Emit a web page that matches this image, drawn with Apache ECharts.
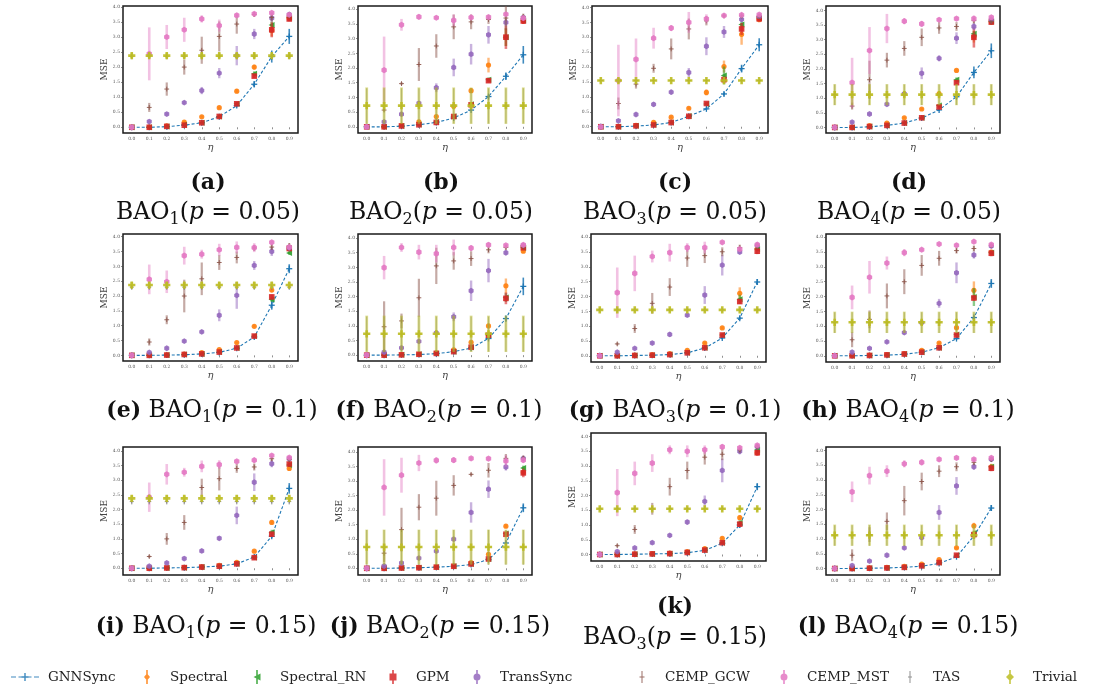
<!DOCTYPE html>
<html>
<head>
<meta charset="utf-8">
<script src="https://cdn.jsdelivr.net/npm/echarts@6/dist/echarts.min.js"></script>
<style>
  html, body { margin: 0; padding: 0; background: #fff; }
  #chart { width: 1118px; height: 691px; }
</style>
</head>
<body>
<div id="chart"></div>
<script>
// ---------- data ----------
const etaTicks = ['0.0', '0.1', '0.2', '0.3', '0.4', '0.5', '0.6', '0.7', '0.8', '0.9'];
const methods = ['GNNSync', 'Spectral', 'Spectral_RN', 'GPM', 'TransSync', 'CEMP_GCW', 'CEMP_MST', 'TAS', 'Trivial'];

const panelTags = ['(a)', '(b)', '(c)', '(d)', '(e)', '(f)', '(g)', '(h)', '(i)', '(j)', '(k)', '(l)'];
const panelBao = ['1', '2', '3', '4', '1', '2', '3', '4', '1', '2', '3', '4'];
const panelP = ['0.05', '0.05', '0.05', '0.05', '0.1', '0.1', '0.1', '0.1', '0.15', '0.15', '0.15', '0.15'];
const yMinTicks = [-0.19, -0.21, -0.21, -0.19, -0.19, -0.2, -0.21, -0.21, -0.23, -0.23, -0.22, -0.22];
const yMaxTicks = [4.03, 4.11, 4.05, 4.15, 4.09, 4.14, 4.11, 4.11, 4.13, 4.17, 4.12, 4.12];

// rows: GNNSync, Spectral, Spectral_RN, GPM, TransSync, CEMP_GCW, CEMP_MST, TAS, Trivial
const mseA = [
  [0, 0, 0.02, 0.07, 0.15, 0.35, 0.72, 1.43, 2.35, 3.02],
  [0, 0.01, 0.05, 0.17, 0.35, 0.65, 1.2, 2.0, 3.22, 3.62],
  [0, 0, 0.03, 0.08, 0.15, 0.36, 0.78, 1.78, 3.4, 3.65],
  [0, 0, 0.03, 0.07, 0.15, 0.36, 0.78, 1.7, 3.24, 3.6],
  [0, 0.19, 0.44, 0.82, 1.22, 1.8, 2.38, 3.1, 3.63, 3.75],
  [0, 0.66, 1.27, 2.0, 2.56, 3.02, 3.43, 3.75, 3.65, 3.72],
  [0, 2.44, 3.0, 3.24, 3.6, 3.38, 3.72, 3.77, 3.8, 3.74],
  [2.36, 2.36, 2.36, 2.36, 2.36, 2.36, 2.36, 2.36, 2.36, 2.36],
  [2.38, 2.38, 2.38, 2.38, 2.38, 2.38, 2.38, 2.38, 2.38, 2.38]
];
const errA = [
  [0.005, 0.005, 0.01, 0.02, 0.02, 0.03, 0.05, 0.1, 0.2, 0.25],
  [0.005, 0.01, 0.02, 0.04, 0.03, 0.04, 0.07, 0.08, 0.2, 0.05],
  [0.005, 0.005, 0.01, 0.02, 0.02, 0.03, 0.05, 0.08, 0.1, 0.05],
  [0.005, 0.005, 0.01, 0.02, 0.02, 0.03, 0.04, 0.06, 0.25, 0.08],
  [0.005, 0.03, 0.05, 0.05, 0.12, 0.17, 0.32, 0.17, 0.12, 0.06],
  [0.005, 0.15, 0.22, 0.25, 0.45, 0.5, 0.32, 0.08, 0.15, 0.1],
  [0.005, 0.88, 0.4, 0.4, 0.12, 0.2, 0.08, 0.05, 0.04, 0.05],
  [0.1, 0.1, 0.1, 0.1, 0.1, 0.1, 0.1, 0.1, 0.1, 0.1],
  [0.08, 0.08, 0.08, 0.08, 0.08, 0.08, 0.08, 0.08, 0.08, 0.08]
];

const mseB = [
  [0, 0, 0.02, 0.07, 0.15, 0.3, 0.57, 1.03, 1.72, 2.45],
  [0, 0.01, 0.05, 0.17, 0.35, 0.7, 1.23, 2.1, 3.05, 3.6],
  [0, 0, 0.03, 0.08, 0.16, 0.36, 0.77, 1.6, 3.05, 3.62],
  [0, 0, 0.03, 0.07, 0.15, 0.35, 0.75, 1.57, 3.05, 3.6],
  [0, 0.17, 0.43, 0.8, 1.33, 2.02, 2.47, 3.13, 3.55, 3.72],
  [0, 0.57, 1.47, 2.12, 2.75, 3.4, 3.57, 3.65, 3.7, 3.75],
  [0, 1.93, 3.47, 3.74, 3.71, 3.62, 3.72, 3.73, 3.83, 3.7],
  [0.71, 0.71, 0.71, 0.71, 0.71, 0.71, 0.71, 0.71, 0.71, 0.71],
  [0.72, 0.72, 0.72, 0.72, 0.72, 0.72, 0.72, 0.72, 0.72, 0.72]
];
const errB = [
  [0.005, 0.005, 0.01, 0.02, 0.02, 0.03, 0.04, 0.06, 0.13, 0.3],
  [0.005, 0.01, 0.02, 0.04, 0.03, 0.05, 0.08, 0.25, 0.3, 0.1],
  [0.005, 0.005, 0.01, 0.02, 0.02, 0.03, 0.05, 0.08, 0.3, 0.08],
  [0.005, 0.005, 0.01, 0.02, 0.02, 0.03, 0.04, 0.06, 0.4, 0.1],
  [0.005, 0.03, 0.05, 0.08, 0.15, 0.3, 0.35, 0.3, 0.12, 0.08],
  [0.005, 0.05, 0.05, 0.56, 0.4, 0.42, 0.25, 0.15, 0.4, 0.1],
  [0.005, 1.14, 0.2, 0.08, 0.05, 0.2, 0.08, 0.05, 0.04, 0.06],
  [0.6, 0.6, 0.6, 0.6, 0.6, 0.6, 0.6, 0.6, 0.6, 0.6],
  [0.62, 0.62, 0.62, 0.62, 0.62, 0.62, 0.62, 0.62, 0.62, 0.62]
];

const mseC = [
  [0, 0, 0.02, 0.06, 0.14, 0.35, 0.6, 1.1, 1.95, 2.75],
  [0, 0.01, 0.05, 0.15, 0.32, 0.62, 1.15, 2.02, 3.1, 3.6],
  [0, 0, 0.03, 0.07, 0.14, 0.36, 0.76, 1.72, 3.43, 3.65],
  [0, 0, 0.03, 0.06, 0.14, 0.35, 0.78, 1.58, 3.28, 3.62],
  [0, 0.2, 0.41, 0.75, 1.16, 1.82, 2.7, 3.18, 3.6, 3.7],
  [0, 0.78, 1.43, 1.96, 2.61, 3.28, 3.55, 3.72, 3.72, 3.7],
  [0, 1.55, 2.26, 2.97, 3.31, 3.5, 3.62, 3.73, 3.75, 3.76],
  [1.55, 1.55, 1.55, 1.55, 1.55, 1.55, 1.55, 1.55, 1.55, 1.55],
  [1.55, 1.55, 1.55, 1.55, 1.55, 1.55, 1.55, 1.55, 1.55, 1.55]
];
const errC = [
  [0.005, 0.005, 0.01, 0.02, 0.02, 0.03, 0.04, 0.06, 0.13, 0.22],
  [0.005, 0.01, 0.02, 0.04, 0.03, 0.04, 0.1, 0.2, 0.35, 0.1],
  [0.005, 0.005, 0.01, 0.02, 0.02, 0.03, 0.05, 0.3, 0.1, 0.05],
  [0.005, 0.005, 0.01, 0.02, 0.02, 0.03, 0.04, 0.1, 0.2, 0.08],
  [0.005, 0.03, 0.05, 0.08, 0.08, 0.15, 0.3, 0.2, 0.1, 0.08],
  [0.005, 0.2, 0.15, 0.15, 0.35, 0.35, 0.15, 0.05, 0.08, 0.08],
  [0.005, 1.2, 0.7, 0.35, 0.1, 0.35, 0.15, 0.04, 0.05, 0.05],
  [0.02, 0.02, 0.02, 0.02, 0.02, 0.02, 0.02, 0.02, 0.02, 0.02],
  [0.02, 0.02, 0.02, 0.02, 0.02, 0.02, 0.02, 0.02, 0.02, 0.02]
];

const mseD = [
  [0, 0, 0.02, 0.07, 0.15, 0.32, 0.6, 1.05, 1.88, 2.62],
  [0, 0.01, 0.06, 0.15, 0.33, 0.63, 1.15, 1.95, 3.1, 3.6],
  [0, 0, 0.03, 0.07, 0.15, 0.33, 0.75, 1.63, 3.2, 3.62],
  [0, 0, 0.03, 0.07, 0.15, 0.33, 0.7, 1.53, 3.08, 3.6],
  [0, 0.18, 0.46, 0.79, 1.15, 1.85, 2.36, 3.05, 3.45, 3.68],
  [0, 0.73, 1.63, 2.3, 2.7, 3.08, 3.4, 3.45, 3.65, 3.62],
  [0, 1.53, 2.63, 3.38, 3.63, 3.54, 3.68, 3.72, 3.72, 3.76],
  [1.12, 1.12, 1.12, 1.12, 1.12, 1.12, 1.12, 1.12, 1.12, 1.12],
  [1.12, 1.12, 1.12, 1.12, 1.12, 1.12, 1.12, 1.12, 1.12, 1.12]
];
const errD = [
  [0.005, 0.005, 0.01, 0.02, 0.02, 0.03, 0.04, 0.06, 0.2, 0.25],
  [0.005, 0.01, 0.02, 0.04, 0.03, 0.04, 0.05, 0.05, 0.2, 0.08],
  [0.005, 0.005, 0.01, 0.02, 0.02, 0.03, 0.05, 0.08, 0.1, 0.05],
  [0.005, 0.005, 0.01, 0.02, 0.02, 0.03, 0.04, 0.06, 0.35, 0.08],
  [0.005, 0.03, 0.05, 0.05, 0.08, 0.2, 0.1, 0.2, 0.12, 0.08],
  [0.005, 0.12, 0.65, 0.25, 0.25, 0.3, 0.2, 0.15, 0.1, 0.1],
  [0.005, 0.85, 0.8, 0.5, 0.1, 0.1, 0.06, 0.05, 0.1, 0.08],
  [0.35, 0.35, 0.35, 0.35, 0.35, 0.35, 0.35, 0.35, 0.35, 0.35],
  [0.36, 0.36, 0.36, 0.36, 0.36, 0.36, 0.36, 0.36, 0.36, 0.36]
];

const mseE = [
  [0, 0, 0.01, 0.02, 0.05, 0.1, 0.24, 0.62, 1.69, 2.92],
  [0, 0.01, 0.02, 0.04, 0.09, 0.19, 0.43, 0.98, 2.2, 3.6],
  [0, 0, 0.01, 0.03, 0.05, 0.11, 0.25, 0.65, 1.88, 3.45],
  [0, 0, 0.01, 0.03, 0.05, 0.11, 0.25, 0.65, 1.97, 3.6],
  [0, 0.1, 0.24, 0.48, 0.79, 1.35, 2.02, 3.03, 3.5, 3.62],
  [0, 0.45, 1.2, 2.0, 2.58, 3.13, 3.3, 3.62, 3.65, 3.7],
  [0, 2.56, 2.48, 3.36, 3.41, 3.56, 3.64, 3.63, 3.81, 3.65],
  [2.3, 2.3, 2.3, 2.3, 2.3, 2.3, 2.3, 2.3, 2.3, 2.3],
  [2.37, 2.37, 2.37, 2.37, 2.37, 2.37, 2.37, 2.37, 2.37, 2.37]
];
const errE = [
  [0.005, 0.005, 0.01, 0.01, 0.02, 0.02, 0.03, 0.05, 0.15, 0.15],
  [0.005, 0.01, 0.01, 0.02, 0.02, 0.03, 0.03, 0.04, 0.06, 0.08],
  [0.005, 0.005, 0.01, 0.01, 0.02, 0.02, 0.03, 0.05, 0.08, 0.06],
  [0.005, 0.005, 0.01, 0.01, 0.02, 0.02, 0.03, 0.05, 0.08, 0.06],
  [0.005, 0.02, 0.04, 0.05, 0.06, 0.2, 0.45, 0.15, 0.15, 0.08],
  [0.005, 0.12, 0.15, 0.55, 0.55, 0.25, 0.2, 0.1, 0.1, 0.08],
  [0.005, 0.5, 0.38, 0.3, 0.15, 0.2, 0.2, 0.15, 0.05, 0.08],
  [0.1, 0.1, 0.1, 0.1, 0.1, 0.1, 0.1, 0.1, 0.1, 0.1],
  [0.1, 0.1, 0.1, 0.1, 0.1, 0.1, 0.1, 0.1, 0.1, 0.1]
];

const mseF = [
  [0, 0, 0.01, 0.02, 0.05, 0.12, 0.24, 0.57, 1.25, 2.35],
  [0, 0.01, 0.02, 0.04, 0.08, 0.18, 0.44, 1.0, 2.37, 3.55],
  [0, 0, 0.01, 0.03, 0.06, 0.12, 0.27, 0.68, 1.97, 3.67],
  [0, 0, 0.01, 0.03, 0.06, 0.12, 0.27, 0.68, 1.94, 3.67],
  [0, 0.1, 0.25, 0.47, 0.76, 1.31, 2.2, 2.89, 3.5, 3.75],
  [0, 0.97, 1.17, 1.96, 3.05, 3.22, 3.3, 3.6, 3.68, 3.7],
  [0, 2.99, 3.68, 3.52, 3.47, 3.68, 3.66, 3.77, 3.75, 3.77],
  [0.72, 0.72, 0.72, 0.72, 0.72, 0.72, 0.72, 0.72, 0.72, 0.72],
  [0.73, 0.73, 0.73, 0.73, 0.73, 0.73, 0.73, 0.73, 0.73, 0.73]
];
const errF = [
  [0.005, 0.005, 0.01, 0.01, 0.02, 0.02, 0.03, 0.05, 0.1, 0.3],
  [0.005, 0.01, 0.01, 0.02, 0.02, 0.03, 0.04, 0.05, 0.25, 0.06],
  [0.005, 0.005, 0.01, 0.01, 0.02, 0.02, 0.03, 0.05, 0.15, 0.05],
  [0.005, 0.005, 0.01, 0.01, 0.02, 0.02, 0.03, 0.05, 0.2, 0.05],
  [0.005, 0.02, 0.04, 0.05, 0.06, 0.15, 0.35, 0.4, 0.08, 0.05],
  [0.005, 0.87, 0.25, 0.65, 0.62, 0.3, 0.25, 0.12, 0.08, 0.06],
  [0.005, 0.4, 0.15, 0.25, 0.3, 0.27, 0.1, 0.08, 0.05, 0.05],
  [0.6, 0.6, 0.6, 0.6, 0.6, 0.6, 0.6, 0.6, 0.6, 0.6],
  [0.62, 0.62, 0.62, 0.62, 0.62, 0.62, 0.62, 0.62, 0.62, 0.62]
];

const mseG = [
  [0, 0, 0.01, 0.02, 0.04, 0.1, 0.26, 0.6, 1.27, 2.49],
  [0, 0.01, 0.02, 0.04, 0.07, 0.18, 0.43, 0.94, 2.11, 3.62],
  [0, 0, 0.01, 0.02, 0.04, 0.1, 0.27, 0.7, 1.91, 3.6],
  [0, 0, 0.01, 0.02, 0.04, 0.1, 0.27, 0.7, 1.83, 3.53],
  [0, 0.12, 0.25, 0.43, 0.72, 1.37, 2.05, 3.06, 3.5, 3.72],
  [0, 0.4, 0.92, 1.77, 2.32, 3.3, 3.38, 3.51, 3.65, 3.72],
  [0, 2.13, 2.78, 3.35, 3.48, 3.65, 3.65, 3.83, 3.6, 3.75],
  [1.55, 1.55, 1.55, 1.55, 1.55, 1.55, 1.55, 1.55, 1.55, 1.55],
  [1.55, 1.55, 1.55, 1.55, 1.55, 1.55, 1.55, 1.55, 1.55, 1.55]
];
const errG = [
  [0.005, 0.005, 0.01, 0.01, 0.02, 0.02, 0.03, 0.04, 0.06, 0.1],
  [0.005, 0.01, 0.01, 0.02, 0.02, 0.03, 0.03, 0.04, 0.2, 0.08],
  [0.005, 0.005, 0.01, 0.01, 0.02, 0.02, 0.03, 0.05, 0.15, 0.06],
  [0.005, 0.005, 0.01, 0.01, 0.02, 0.02, 0.03, 0.05, 0.08, 0.1],
  [0.005, 0.02, 0.03, 0.05, 0.08, 0.05, 0.3, 0.35, 0.06, 0.06],
  [0.005, 0.05, 0.15, 0.35, 0.3, 0.3, 0.25, 0.15, 0.1, 0.1],
  [0.005, 0.85, 0.6, 0.2, 0.3, 0.15, 0.2, 0.04, 0.05, 0.06],
  [0.02, 0.02, 0.02, 0.02, 0.02, 0.02, 0.02, 0.02, 0.02, 0.02],
  [0.02, 0.02, 0.02, 0.02, 0.02, 0.02, 0.02, 0.02, 0.02, 0.02]
];

const mseH = [
  [0, 0, 0.01, 0.02, 0.05, 0.12, 0.27, 0.58, 1.29, 2.44],
  [0, 0.01, 0.02, 0.04, 0.07, 0.18, 0.43, 0.95, 2.21, 3.5],
  [0, 0, 0.01, 0.03, 0.06, 0.12, 0.27, 0.72, 1.98, 3.48],
  [0, 0, 0.01, 0.03, 0.06, 0.12, 0.27, 0.7, 1.95, 3.46],
  [0, 0.12, 0.25, 0.47, 0.78, 1.12, 1.77, 2.8, 3.4, 3.7],
  [0, 0.54, 1.23, 2.02, 2.5, 3.05, 3.29, 3.55, 3.62, 3.72],
  [0, 1.97, 2.65, 3.13, 3.48, 3.58, 3.77, 3.73, 3.85, 3.75],
  [1.12, 1.12, 1.12, 1.12, 1.12, 1.12, 1.12, 1.12, 1.12, 1.12],
  [1.13, 1.13, 1.13, 1.13, 1.13, 1.13, 1.13, 1.13, 1.13, 1.13]
];
const errH = [
  [0.005, 0.005, 0.01, 0.01, 0.02, 0.02, 0.03, 0.04, 0.06, 0.15],
  [0.005, 0.01, 0.01, 0.02, 0.02, 0.03, 0.03, 0.04, 0.3, 0.08],
  [0.005, 0.005, 0.01, 0.01, 0.02, 0.02, 0.03, 0.05, 0.3, 0.06],
  [0.005, 0.005, 0.01, 0.01, 0.02, 0.02, 0.03, 0.05, 0.08, 0.1],
  [0.005, 0.02, 0.03, 0.05, 0.06, 0.05, 0.15, 0.35, 0.12, 0.06],
  [0.005, 0.25, 0.3, 0.42, 0.42, 0.35, 0.25, 0.1, 0.1, 0.08],
  [0.005, 0.4, 0.55, 0.22, 0.12, 0.05, 0.03, 0.08, 0.03, 0.06],
  [0.35, 0.35, 0.35, 0.35, 0.35, 0.35, 0.35, 0.35, 0.35, 0.35],
  [0.36, 0.36, 0.36, 0.36, 0.36, 0.36, 0.36, 0.36, 0.36, 0.36]
];

const mseI = [
  [0, 0, 0.01, 0.02, 0.04, 0.07, 0.15, 0.38, 1.09, 2.72],
  [0, 0.01, 0.02, 0.03, 0.05, 0.1, 0.2, 0.58, 1.56, 3.4],
  [0, 0, 0.01, 0.02, 0.04, 0.07, 0.15, 0.37, 1.23, 3.52],
  [0, 0, 0.01, 0.02, 0.04, 0.07, 0.15, 0.36, 1.16, 3.55],
  [0, 0.07, 0.18, 0.33, 0.59, 1.02, 1.8, 2.93, 3.56, 3.73],
  [0, 0.4, 1.0, 1.56, 2.75, 3.05, 3.4, 3.45, 3.73, 3.7],
  [0, 2.42, 3.2, 3.27, 3.47, 3.53, 3.64, 3.68, 3.84, 3.77],
  [2.27, 2.27, 2.27, 2.27, 2.27, 2.27, 2.27, 2.27, 2.27, 2.27],
  [2.38, 2.38, 2.38, 2.38, 2.38, 2.38, 2.38, 2.38, 2.38, 2.38]
];
const errI = [
  [0.005, 0.005, 0.01, 0.01, 0.02, 0.02, 0.03, 0.04, 0.06, 0.18],
  [0.005, 0.01, 0.01, 0.02, 0.02, 0.02, 0.03, 0.04, 0.06, 0.08],
  [0.005, 0.005, 0.01, 0.01, 0.02, 0.02, 0.03, 0.04, 0.08, 0.06],
  [0.005, 0.005, 0.01, 0.01, 0.02, 0.02, 0.03, 0.04, 0.06, 0.08],
  [0.005, 0.02, 0.03, 0.03, 0.06, 0.06, 0.3, 0.3, 0.12, 0.06],
  [0.005, 0.05, 0.2, 0.25, 0.3, 0.4, 0.15, 0.12, 0.08, 0.08],
  [0.005, 0.5, 0.35, 0.15, 0.2, 0.15, 0.05, 0.08, 0.04, 0.05],
  [0.1, 0.1, 0.1, 0.1, 0.1, 0.1, 0.1, 0.1, 0.1, 0.1],
  [0.1, 0.1, 0.1, 0.1, 0.1, 0.1, 0.1, 0.1, 0.1, 0.1]
];

const mseJ = [
  [0, 0, 0.01, 0.02, 0.04, 0.07, 0.13, 0.3, 0.87, 2.08],
  [0, 0.01, 0.02, 0.03, 0.05, 0.08, 0.2, 0.48, 1.45, 3.3],
  [0, 0, 0.01, 0.02, 0.04, 0.07, 0.15, 0.32, 1.2, 3.45],
  [0, 0, 0.01, 0.02, 0.04, 0.07, 0.15, 0.32, 1.17, 3.28],
  [0, 0.08, 0.18, 0.35, 0.59, 1.0, 1.92, 2.72, 3.48, 3.78],
  [0, 0.52, 1.33, 2.1, 2.41, 2.85, 3.23, 3.37, 3.78, 3.78],
  [0, 2.78, 3.2, 3.62, 3.71, 3.72, 3.78, 3.77, 3.69, 3.72],
  [0.72, 0.72, 0.72, 0.72, 0.72, 0.72, 0.72, 0.72, 0.72, 0.72],
  [0.73, 0.73, 0.73, 0.73, 0.73, 0.73, 0.73, 0.73, 0.73, 0.73]
];
const errJ = [
  [0.005, 0.005, 0.01, 0.01, 0.02, 0.02, 0.02, 0.03, 0.05, 0.15],
  [0.005, 0.01, 0.01, 0.02, 0.02, 0.02, 0.03, 0.04, 0.06, 0.08],
  [0.005, 0.005, 0.01, 0.01, 0.02, 0.02, 0.03, 0.04, 0.06, 0.08],
  [0.005, 0.005, 0.01, 0.01, 0.02, 0.02, 0.03, 0.04, 0.06, 0.15],
  [0.005, 0.02, 0.03, 0.04, 0.05, 0.04, 0.35, 0.3, 0.12, 0.05],
  [0.005, 0.3, 0.75, 0.45, 0.6, 0.35, 0.05, 0.25, 0.15, 0.1],
  [0.005, 0.97, 0.6, 0.28, 0.1, 0.1, 0.05, 0.05, 0.2, 0.08],
  [0.6, 0.6, 0.6, 0.6, 0.6, 0.6, 0.6, 0.6, 0.6, 0.6],
  [0.6, 0.6, 0.6, 0.6, 0.6, 0.6, 0.6, 0.6, 0.6, 0.6]
];

const mseK = [
  [0, 0, 0.01, 0.02, 0.03, 0.06, 0.14, 0.38, 1.0, 2.3],
  [0, 0.01, 0.02, 0.03, 0.05, 0.1, 0.2, 0.55, 1.25, 3.45],
  [0, 0, 0.01, 0.02, 0.03, 0.07, 0.15, 0.4, 1.08, 3.55],
  [0, 0, 0.01, 0.02, 0.03, 0.07, 0.15, 0.4, 1.03, 3.45],
  [0, 0.1, 0.22, 0.4, 0.65, 1.1, 1.8, 2.85, 3.5, 3.65],
  [0, 0.3, 0.85, 1.55, 2.3, 2.85, 3.3, 3.4, 3.55, 3.65],
  [0, 2.1, 2.75, 3.1, 3.55, 3.5, 3.55, 3.65, 3.62, 3.7],
  [1.55, 1.55, 1.55, 1.55, 1.55, 1.55, 1.55, 1.55, 1.55, 1.55],
  [1.55, 1.55, 1.55, 1.55, 1.55, 1.55, 1.55, 1.55, 1.55, 1.55]
];
const errK = [
  [0.005, 0.005, 0.01, 0.01, 0.02, 0.02, 0.03, 0.04, 0.08, 0.12],
  [0.005, 0.01, 0.01, 0.02, 0.02, 0.02, 0.03, 0.04, 0.08, 0.08],
  [0.005, 0.005, 0.01, 0.01, 0.02, 0.02, 0.03, 0.04, 0.08, 0.08],
  [0.005, 0.005, 0.01, 0.01, 0.02, 0.02, 0.03, 0.04, 0.08, 0.1],
  [0.005, 0.02, 0.03, 0.05, 0.06, 0.08, 0.2, 0.4, 0.1, 0.08],
  [0.005, 0.05, 0.15, 0.2, 0.3, 0.3, 0.25, 0.2, 0.1, 0.1],
  [0.005, 0.8, 0.4, 0.3, 0.15, 0.2, 0.15, 0.08, 0.05, 0.06],
  [0.02, 0.02, 0.02, 0.02, 0.02, 0.02, 0.02, 0.02, 0.02, 0.02],
  [0.02, 0.02, 0.02, 0.02, 0.02, 0.02, 0.02, 0.02, 0.02, 0.02]
];

const mseL = [
  [0, 0, 0.01, 0.02, 0.04, 0.08, 0.17, 0.4, 1.1, 2.05],
  [0, 0.01, 0.02, 0.04, 0.07, 0.15, 0.3, 0.7, 1.45, 3.45],
  [0, 0, 0.01, 0.02, 0.04, 0.09, 0.2, 0.45, 1.2, 3.45],
  [0, 0, 0.01, 0.02, 0.04, 0.09, 0.2, 0.45, 1.15, 3.4],
  [0, 0.1, 0.25, 0.45, 0.7, 1.05, 1.9, 2.8, 3.45, 3.7],
  [0, 0.45, 1.15, 1.6, 2.3, 2.95, 3.3, 3.45, 3.6, 3.7],
  [0, 2.6, 3.15, 3.3, 3.55, 3.6, 3.7, 3.75, 3.7, 3.75],
  [1.12, 1.12, 1.12, 1.12, 1.12, 1.12, 1.12, 1.12, 1.12, 1.12],
  [1.13, 1.13, 1.13, 1.13, 1.13, 1.13, 1.13, 1.13, 1.13, 1.13]
];
const errL = [
  [0.005, 0.005, 0.01, 0.01, 0.02, 0.02, 0.03, 0.04, 0.06, 0.1],
  [0.005, 0.01, 0.01, 0.02, 0.02, 0.02, 0.03, 0.04, 0.1, 0.1],
  [0.005, 0.005, 0.01, 0.01, 0.02, 0.02, 0.03, 0.04, 0.08, 0.08],
  [0.005, 0.005, 0.01, 0.01, 0.02, 0.02, 0.03, 0.04, 0.08, 0.1],
  [0.005, 0.02, 0.03, 0.05, 0.06, 0.08, 0.25, 0.3, 0.1, 0.06],
  [0.005, 0.2, 0.25, 0.3, 0.5, 0.3, 0.2, 0.15, 0.1, 0.08],
  [0.005, 0.35, 0.3, 0.2, 0.12, 0.1, 0.06, 0.05, 0.05, 0.05],
  [0.35, 0.35, 0.35, 0.35, 0.35, 0.35, 0.35, 0.35, 0.35, 0.35],
  [0.36, 0.36, 0.36, 0.36, 0.36, 0.36, 0.36, 0.36, 0.36, 0.36]
];

const panelMse = [mseA, mseB, mseC, mseD, mseE, mseF, mseG, mseH, mseI, mseJ, mseK, mseL];
const panelErr = [errA, errB, errC, errD, errE, errF, errG, errH, errI, errJ, errK, errL];

// ---------- layout & style ----------
const colors = ['#1f77b4', '#ff7f0e', '#2ca02c', '#d62728', '#9467bd', '#8c564b', '#e377c2', '#7f7f7f', '#bcbd22'];
const barWidth = [1.6, 2.4, 2.4, 2.6, 2.4, 2.2, 2.6, 1.2, 2.8];
const barAlpha = [0.85, 0.55, 0.55, 0.6, 0.5, 0.5, 0.45, 0.6, 0.5];

// [left, top, width, height] of each plot frame
const frames = [
  [123, 6, 175, 127], [358, 6, 174, 127], [592, 6, 176, 127], [826, 6, 174, 127],
  [123, 234, 175, 127], [358, 234, 174, 127], [591, 234, 175, 128], [826, 234, 174, 128],
  [123, 447, 175, 128], [358, 447, 174, 128], [591, 433, 175, 128], [826, 447, 174, 128]
];
// caption placement: [centerX, tagY, textY]; tagY null means one line "(x) BAO..."
const captionPos = [
  [208, 183, 213], [441, 183, 213], [675, 183, 213], [909, 183, 213],
  [212, null, 411], [439, null, 411], [675, null, 411], [908, null, 411],
  [206, null, 627], [440, null, 627], [675, 607, 638], [908, null, 627]
];

const SERIF = 'DejaVu Serif';

function markerShape(k, x, y) {
  const c = colors[k];
  const fill = { fill: c, opacity: 0.9 };
  switch (k) {
    case 0:
      return { type: 'group', children: [
        { type: 'line', shape: { x1: x - 3, y1: y, x2: x + 3, y2: y }, style: { stroke: c, lineWidth: 1.3 } },
        { type: 'line', shape: { x1: x, y1: y - 3, x2: x, y2: y + 3 }, style: { stroke: c, lineWidth: 1.3 } }
      ] };
    case 1:
      return { type: 'circle', shape: { cx: x, cy: y, r: 2.6 }, style: fill };
    case 2:
      return { type: 'polygon', shape: { points: [[x - 3.2, y], [x + 2.8, y - 3], [x + 2.8, y + 3]] }, style: fill };
    case 3:
      return { type: 'rect', shape: { x: x - 2.8, y: y - 2.8, width: 5.6, height: 5.6 }, style: fill };
    case 4:
    case 6: {
      const r = k === 6 ? 3.1 : 2.9;
      const pts = [];
      for (let a = 0; a < 6; a++) {
        const ang = Math.PI / 6 + a * Math.PI / 3;
        pts.push([x + r * Math.cos(ang), y + r * Math.sin(ang)]);
      }
      return { type: 'polygon', shape: { points: pts }, style: fill };
    }
    case 5:
    case 7: {
      const s = k === 5 ? 2.4 : 2.0;
      return { type: 'group', children: [
        { type: 'line', shape: { x1: x - s, y1: y, x2: x + s, y2: y }, style: { stroke: c, lineWidth: 0.9 } },
        { type: 'line', shape: { x1: x, y1: y - s, x2: x, y2: y + s }, style: { stroke: c, lineWidth: 0.9 } }
      ] };
    }
    default: {
      const a = 3.6, w = 1.3;
      return { type: 'polygon', shape: { points: [
        [x - w, y - a], [x + w, y - a], [x + w, y - w], [x + a, y - w], [x + a, y + w], [x + w, y + w],
        [x + w, y + a], [x - w, y + a], [x - w, y + w], [x - a, y + w], [x - a, y - w], [x - w, y - w]
      ] }, style: fill };
    }
  }
}

function errorbarRenderer(k) {
  return function (params, api) {
    const i = api.value(0), m = api.value(1), e = api.value(2);
    const p = api.coord([i, m]);
    const hi = api.coord([i, m + e]);
    const lo = api.coord([i, m - e]);
    return {
      type: 'group',
      children: [
        { type: 'line', shape: { x1: p[0], y1: hi[1], x2: p[0], y2: lo[1] },
          style: { stroke: colors[k], lineWidth: barWidth[k], opacity: barAlpha[k] } },
        markerShape(k, p[0], p[1])
      ]
    };
  };
}

const grids = [], xAxes = [], yAxes = [], series = [];
frames.forEach((f, i) => {
  grids.push({ left: f[0], top: f[1], width: f[2], height: f[3], show: true,
    borderColor: '#1a1a1a', borderWidth: 1.5, backgroundColor: 'transparent' });
  xAxes.push({
    type: 'category', gridIndex: i, data: etaTicks, boundaryGap: true,
    axisLine: { show: false },
    axisTick: { show: true, alignWithLabel: true, length: 2, lineStyle: { color: '#444', width: 0.6 } },
    axisLabel: { fontSize: 4.5, color: '#555', margin: 3, fontFamily: SERIF },
    splitLine: { show: false },
    name: 'η', nameLocation: 'middle', nameGap: 9,
    nameTextStyle: { fontFamily: SERIF, fontStyle: 'italic', fontSize: 10, color: '#444' }
  });
  yAxes.push({
    type: 'value', gridIndex: i, min: yMinTicks[i], max: yMaxTicks[i], splitNumber: 8,
    axisLine: { show: false },
    axisTick: { show: true, length: 2, lineStyle: { color: '#444', width: 0.6 } },
    axisLabel: { fontSize: 4.5, color: '#555', margin: 3, fontFamily: SERIF,
      showMinLabel: false, showMaxLabel: false, formatter: v => v.toFixed(1) },
    splitLine: { show: false },
    name: 'MSE', nameLocation: 'middle', nameGap: 12,
    nameTextStyle: { fontFamily: SERIF, fontSize: 9, color: '#444' }
  });

  const mse = panelMse[i], err = panelErr[i];
  series.push({
    type: 'line', name: 'GNNSync', xAxisIndex: i, yAxisIndex: i, data: mse[0],
    symbol: 'none', silent: true, z: 2,
    lineStyle: { color: colors[0], width: 1.1, type: [3, 2] }, itemStyle: { color: colors[0] }
  });
  methods.forEach((name, k) => {
    series.push({
      type: 'custom', name, xAxisIndex: i, yAxisIndex: i, z: 3 + k,
      itemStyle: { color: colors[k] },
      encode: { x: 0, y: 1 },
      data: mse[k].map((v, j) => [j, v, err[k][j]]),
      renderItem: errorbarRenderer(k)
    });
  });
});

// legend icons: 32 x 14 boxes, marker centred at x = 14; corner specks fix the box extent
const SPECKS = 'M0,0h0.01v0.01h-0.01z M31.99,13.99h0.01v0.01h-0.01z ';
const BAR = 'M13.2,0h1.6v14h-1.6z ';
const THIN = 'M13.5,1h1v12h-1z ';
const legendIcons = [
  'path://' + SPECKS + 'M0,6.4h5v1.2h-5z M7.5,6.4h3.5v1.2h-3.5z M17,6.4h3.5v1.2h-3.5z M23,6.4h5v1.2h-5z M13.3,3h1.4v8h-1.4z M10.5,6.3h7v1.4h-7z',
  'path://' + SPECKS + BAR + 'M14,3.5L17,7L14,10.5L11,7z',
  'path://' + SPECKS + BAR + 'M10.5,7L17.5,3.5L17.5,10.5z',
  'path://' + SPECKS + BAR + 'M10.5,3.5h7v7h-7z',
  'path://' + SPECKS + BAR + 'M10.5,7a3.5,3.5 0 1,1 7,0a3.5,3.5 0 1,1 -7,0z',
  'path://' + SPECKS + THIN + 'M11.5,6.5h5v1h-5z',
  'path://' + SPECKS + BAR + 'M10.5,7a3.5,3.5 0 1,1 7,0a3.5,3.5 0 1,1 -7,0z',
  'path://' + SPECKS + THIN + 'M12,6.5h4v1h-4z',
  'path://' + SPECKS + BAR + 'M14,3L18,7L14,11L10,7z'
];
const legendTextX = [48, 170, 280, 416, 500, 665, 807, 933, 1033];
const legends = methods.map((name, k) => ({
  data: [{ name, icon: legendIcons[k], itemStyle: { color: colors[k], opacity: 0.85 } }],
  left: legendTextX[k] - 37, top: 670, padding: 0,
  itemWidth: 32, itemHeight: 14,
  textStyle: { fontFamily: SERIF, fontSize: 13.5, color: '#222' }
}));

// sub-figure captions
const capRich = {
  b: { fontFamily: SERIF, fontWeight: 'bold', fontSize: 22, fill: '#111', lineHeight: 30 },
  n: { fontFamily: SERIF, fontSize: 23.5, fill: '#111', lineHeight: 30 },
  i: { fontFamily: SERIF, fontStyle: 'italic', fontSize: 23.5, fill: '#111', lineHeight: 30 },
  s: { fontFamily: SERIF, fontSize: 16, fill: '#111', lineHeight: 16, verticalAlign: 'bottom' }
};
const graphics = [];
captionPos.forEach((c, i) => {
  const baoText = '{n|BAO}{s|' + panelBao[i] + '}{n|(}{i|p}{n| = ' + panelP[i] + ')}';
  if (c[1] === null) {
    graphics.push({ type: 'text', x: c[0], y: c[2], silent: true,
      style: { text: '{b|' + panelTags[i] + '}{n| }' + baoText, rich: capRich, align: 'center', verticalAlign: 'middle' } });
  } else {
    graphics.push({ type: 'text', x: c[0], y: c[1], silent: true,
      style: { text: '{b|' + panelTags[i] + '}', rich: capRich, align: 'center', verticalAlign: 'middle' } });
    graphics.push({ type: 'text', x: c[0], y: c[2], silent: true,
      style: { text: baoText, rich: capRich, align: 'center', verticalAlign: 'middle' } });
  }
});

const chart = echarts.init(document.getElementById('chart'), null, { renderer: 'canvas' });
chart.setOption({
  backgroundColor: '#ffffff',
  animation: false,
  grid: grids,
  xAxis: xAxes,
  yAxis: yAxes,
  legend: legends,
  graphic: graphics,
  series
});
</script>
</body>
</html>
